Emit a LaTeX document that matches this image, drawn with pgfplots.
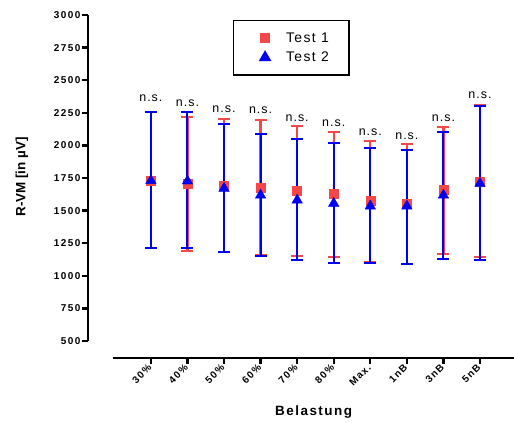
\documentclass[border=0pt]{standalone}
\usepackage{fontspec}
\setmainfont{Liberation Sans}
\usepackage{pgfplots}
\usepackage{pgfplotstable}
\pgfplotsset{compat=1.18}
\definecolor{tred}{HTML}{F44848}
\definecolor{tblue}{HTML}{0000F0}

\pgfplotstableread{
x y ep em
0 1729 525 516
1 1706 514 514
2 1691 511 511
3 1678 517 517
4 1652 499 498
5 1627 478 481
6 1576 458 468
7 1550 463 457
8 1658 485 489
9 1721 589 575
}\testone

\pgfplotstableread{
x y ep em
0 1730 524 517
1 1727 527 514
2 1671 491 491
3 1619 466 470
4 1581 466 462
5 1556 465 456
6 1535 443 437
7 1535 430 442
8 1619 486 488
9 1709 596 586
}\testtwo

\begin{document}
\begin{tikzpicture}
\useasboundingbox (0,0) rectangle (514bp,423bp);
\begin{axis}[
  at={(88bp,65bp)}, anchor=south west,
  scale only axis, width=426bp, height=343bp,
  xmin=-1.72, xmax=9.93, ymin=370, ymax=3000,
  clip=false,
  axis line style={draw=none},
  tick pos=left,
  tick align=outside,
  major tick length=6bp,
  tick style={line width=2.4bp, black},
  xtick={0,...,9},
  xticklabels={30\%,40\%,50\%,60\%,70\%,80\%,Max.,1nB,3nB,5nB},
  ytick={500,750,...,3000},
  /pgf/number format/assume math mode=true,
  /pgf/number format/1000 sep={},
  yticklabel style={font=\fontsize{10}{12}\selectfont\bfseries\addfontfeatures{LetterSpace=14}, inner sep=1.5bp},
  xticklabel style={font=\fontsize{10}{12}\selectfont\bfseries\addfontfeatures{LetterSpace=12}, rotate=45, anchor=east, inner sep=1bp, xshift=-1bp, yshift=-0.5bp},
  xlabel={Belastung},
  xlabel style={at={(axis description cs:0.5296,-0.169)}, anchor=base, font=\fontsize{13.5}{15}\selectfont\bfseries\addfontfeatures{LetterSpace=11}},
  ylabel={R-VM [in µV]},
  ylabel style={at={(axis description cs:-0.155,0.528)}, anchor=center, font=\fontsize{13.5}{15}\selectfont\bfseries},
  legend style={at={(axis description cs:0.34,0.985)}, anchor=north west, draw=black, line width=1.3bp,
    font=\fontsize{14}{16}\selectfont\addfontfeatures{LetterSpace=10}, inner xsep=18bp, inner ysep=10bp, row sep=4bp},
  legend cell align=left,
  legend image code/.code={\path[draw=none] (0,0) -- (1.15cm,0); \draw[#1, /tikz/only marks] plot coordinates {(0.48cm,0cm)};},
]
\addplot[only marks, mark=square*, mark size=4.5bp, color=tred,
  error bars/.cd, y dir=both, y explicit,
  error bar style={line width=2.2bp, color=tred},
  error mark options={rotate=90, mark size=6bp, line width=2.2bp, color=tred}]
  table[x=x, y=y, y error plus=ep, y error minus=em] {\testone};
\addlegendentry{Test 1}
\addplot[only marks, mark=triangle*, mark size=6bp, color=tblue,
  error bars/.cd, y dir=both, y explicit,
  error bar style={line width=2bp, color=tblue},
  error mark options={rotate=90, mark size=6bp, line width=2bp, color=tblue}]
  table[x=x, y=y, y error plus=ep, y error minus=em] {\testtwo};
\addlegendentry{Test 2}
\draw[line width=2.6bp] (axis cs:-1.72,500) -- (axis cs:-1.72,3000);
\draw[line width=2.8bp] (axis cs:-1.04,370) -- (axis cs:9.93,370);
\begin{scope}[every node/.style={font=\fontsize{12.5}{14}\selectfont\addfontfeatures{LetterSpace=8}}]
\node at (axis cs:0,2361) {n.s.};
\node at (axis cs:1,2323) {n.s.};
\node at (axis cs:2,2277) {n.s.};
\node at (axis cs:3,2271) {n.s.};
\node at (axis cs:4,2212) {n.s.};
\node at (axis cs:5,2169) {n.s.};
\node at (axis cs:6,2105) {n.s.};
\node at (axis cs:7,2072) {n.s.};
\node at (axis cs:8,2212) {n.s.};
\node at (axis cs:9,2387) {n.s.};
\end{scope}
\end{axis}
\end{tikzpicture}
\end{document}
